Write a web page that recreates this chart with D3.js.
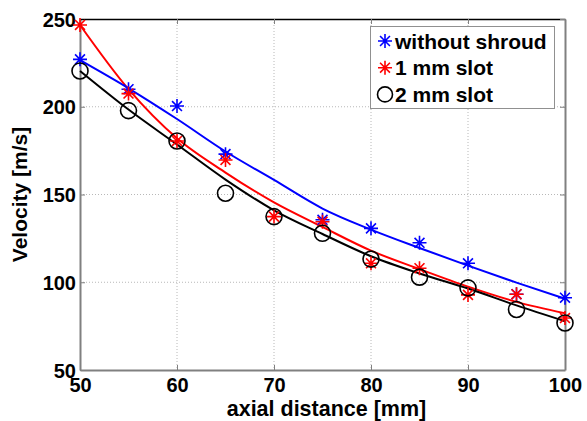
<!DOCTYPE html>
<html>
<head>
<meta charset="utf-8">
<script src="https://cdn.jsdelivr.net/npm/d3@7"></script>
<style>
  html, body { margin: 0; padding: 0; background: #fff; }
  svg { display: block; font-family: "Liberation Sans", Arial, sans-serif; font-weight: bold; }
</style>
</head>
<body>
<svg id="chart" width="587" height="421"></svg>
<script>
// axial positions [mm]
const distance = [50, 55, 60, 65, 70, 75, 80, 85, 90, 95, 100];

// measured velocities [m/s]
const withoutShroud = [227, 210, 200.4, 173, null, 135.6, 130.7, 122.5, 110.8, 93.2, 91.2];
const slot1mm       = [246.6, 207.5, 180.5, 169.7, 137.4, 134.5, 110.8, 108, 92.8, 93.2, 79.6];
const slot2mm       = [220.4, 197.8, 180.5, 150.7, 137.4, 127.9, 113.2, 102.9, 96.8, 84.5, 76.8];

// fitted trend curves [m/s]
const fitWithoutShroud = [226.5, 210.5, 193, 174.5, 158.3, 142, 130, 119.5, 109.5, 99.8, 90.6];
const fit1mm           = [246.6, 210, 182, 162.5, 145.5, 131.5, 118, 107.5, 97.5, 88.8, 82.3];
const fit2mm           = [220.4, 198.4, 178.5, 158.5, 141, 127.5, 114.8, 105, 96.4, 86.8, 77.8];

const seriesNames = ["without shroud", "1 mm slot", "2 mm slot"];
const xTicks = [50, 60, 70, 80, 90, 100];
const yTicks = [50, 100, 150, 200, 250];

const series = [
  { name: seriesNames[0], values: withoutShroud, fit: fitWithoutShroud, color: "#0000ff", marker: "star" },
  { name: seriesNames[1], values: slot1mm, fit: fit1mm, color: "#ff0000", marker: "star" },
  { name: seriesNames[2], values: slot2mm, fit: fit2mm, color: "#000000", marker: "circle" }
];

const svg = d3.select("#chart");
const margin = { left: 80, right: 22, top: 19, bottom: 51 };
const W = 587, H = 421;
const x = d3.scaleLinear().domain([50, 100]).range([margin.left, W - margin.right]);
const y = d3.scaleLinear().domain([50, 250]).range([H - margin.bottom, margin.top]);

const [x0, x1] = x.range();
const [y1, y0] = y.range();

// dotted grid
const grid = svg.append("g").attr("stroke", "#b8b8b8").attr("stroke-width", 1).attr("stroke-dasharray", "1,2");
grid.selectAll("line.gx").data(xTicks.slice(1, -1)).join("line")
  .attr("x1", d => x(d)).attr("x2", d => x(d)).attr("y1", y0).attr("y2", y1);
grid.selectAll("line.gy").data(yTicks.slice(1, -1)).join("line")
  .attr("x1", x0).attr("x2", x1).attr("y1", d => y(d)).attr("y2", d => y(d));

// axes (ticks point inward)
const tickFont = "20px";
const xAxis = svg.append("g").attr("transform", `translate(0,${y1})`)
  .call(d3.axisBottom(x).tickValues(xTicks).tickSize(-5).tickPadding(9).tickSizeOuter(0));
const yAxis = svg.append("g").attr("transform", `translate(${x0},0)`)
  .call(d3.axisLeft(y).tickValues(yTicks).tickSize(-5).tickPadding(4).tickSizeOuter(0));
[xAxis, yAxis].forEach(g => {
  g.select(".domain").attr("stroke", "#808080").attr("stroke-width", 2);
  g.selectAll(".tick line").attr("stroke", "#808080").attr("stroke-width", 1);
  g.selectAll(".tick text").attr("fill", "#000").style("font-size", tickFont)
    .style("font-family", "'Liberation Sans', Arial, sans-serif").style("font-weight", "bold");
});
xAxis.selectAll(".tick text").attr("y", 21.5).attr("dy", 0);
yAxis.selectAll(".tick text").attr("dy", "0.36em");

// top and right frame with mirrored ticks
const frameTop = svg.append("g").attr("transform", `translate(0,${y0})`)
  .call(d3.axisTop(x).tickValues(xTicks).tickSize(-5).tickFormat("").tickSizeOuter(0));
frameTop.select(".domain").attr("stroke", "#000").attr("stroke-width", 1.5);
frameTop.selectAll(".tick line").attr("stroke", "#808080");
const frameRight = svg.append("g").attr("transform", `translate(${x1},0)`)
  .call(d3.axisRight(y).tickValues(yTicks).tickSize(-5).tickFormat("").tickSizeOuter(0));
frameRight.select(".domain").attr("stroke", "#808080").attr("stroke-width", 2);
frameRight.selectAll(".tick line").attr("stroke", "#808080");

// asterisk marker: plus and cross combined
const asterisk = {
  draw(ctx, size) {
    const r = Math.sqrt(size) / 2;
    const d = r * Math.SQRT1_2;
    ctx.moveTo(-r, 0); ctx.lineTo(r, 0);
    ctx.moveTo(0, -r); ctx.lineTo(0, r);
    ctx.moveTo(-d, -d); ctx.lineTo(d, d);
    ctx.moveTo(-d, d); ctx.lineTo(d, -d);
  }
};
const starPath = d3.symbol(asterisk, 14 * 14)();

const line = d3.line()
  .defined(d => d[1] != null)
  .x(d => x(d[0])).y(d => y(d[1]))
  .curve(d3.curveMonotoneX);

const plot = svg.append("g");
// fitted curves
series.forEach(s => {
  plot.append("path")
    .datum(distance.map((dv, i) => [dv, s.fit[i]]))
    .attr("d", line)
    .attr("fill", "none").attr("stroke", s.color).attr("stroke-width", 2);
});
// measured points
series.forEach(s => {
  const pts = distance.map((dv, i) => [dv, s.values[i]]).filter(p => p[1] != null);
  const g = plot.append("g");
  if (s.marker === "star") {
    g.selectAll("path").data(pts).join("path")
      .attr("d", starPath)
      .attr("transform", d => `translate(${x(d[0])},${y(d[1])})`)
      .attr("fill", "none").attr("stroke", s.color).attr("stroke-width", 1.6);
  } else {
    g.selectAll("circle").data(pts).join("circle")
      .attr("cx", d => x(d[0])).attr("cy", d => y(d[1])).attr("r", 8)
      .attr("fill", "none").attr("stroke", s.color).attr("stroke-width", 1.6);
  }
});

// axis titles
svg.append("text")
  .attr("x", (x0 + x1) / 2 + 4).attr("y", 415.5)
  .attr("text-anchor", "middle").style("font-size", "21.5px")
  .text("axial distance [mm]");
svg.append("text")
  .attr("transform", `translate(27,${(y0 + y1) / 2}) rotate(-90)`)
  .attr("text-anchor", "middle").style("font-size", "21px")
  .text("Velocity [m/s]");

// legend
const legend = svg.append("g");
legend.append("rect")
  .attr("x", 370.5).attr("y", 26.5).attr("width", 184).attr("height", 82)
  .attr("fill", "#fff").attr("stroke", "#909090").attr("stroke-width", 1);
series.forEach((s, i) => {
  const cy = 41 + i * 26.7;
  if (s.marker === "star") {
    legend.append("path").attr("d", starPath)
      .attr("transform", `translate(385,${cy})`)
      .attr("fill", "none").attr("stroke", s.color).attr("stroke-width", 1.6);
  } else {
    legend.append("circle").attr("cx", 385).attr("cy", cy).attr("r", 7.5)
      .attr("fill", "none").attr("stroke", s.color).attr("stroke-width", 1.6);
  }
  legend.append("text")
    .attr("x", 395).attr("y", cy + 7.5)
    .style("font-size", "21px")
    .text(s.name);
});
</script>
</body>
</html>
